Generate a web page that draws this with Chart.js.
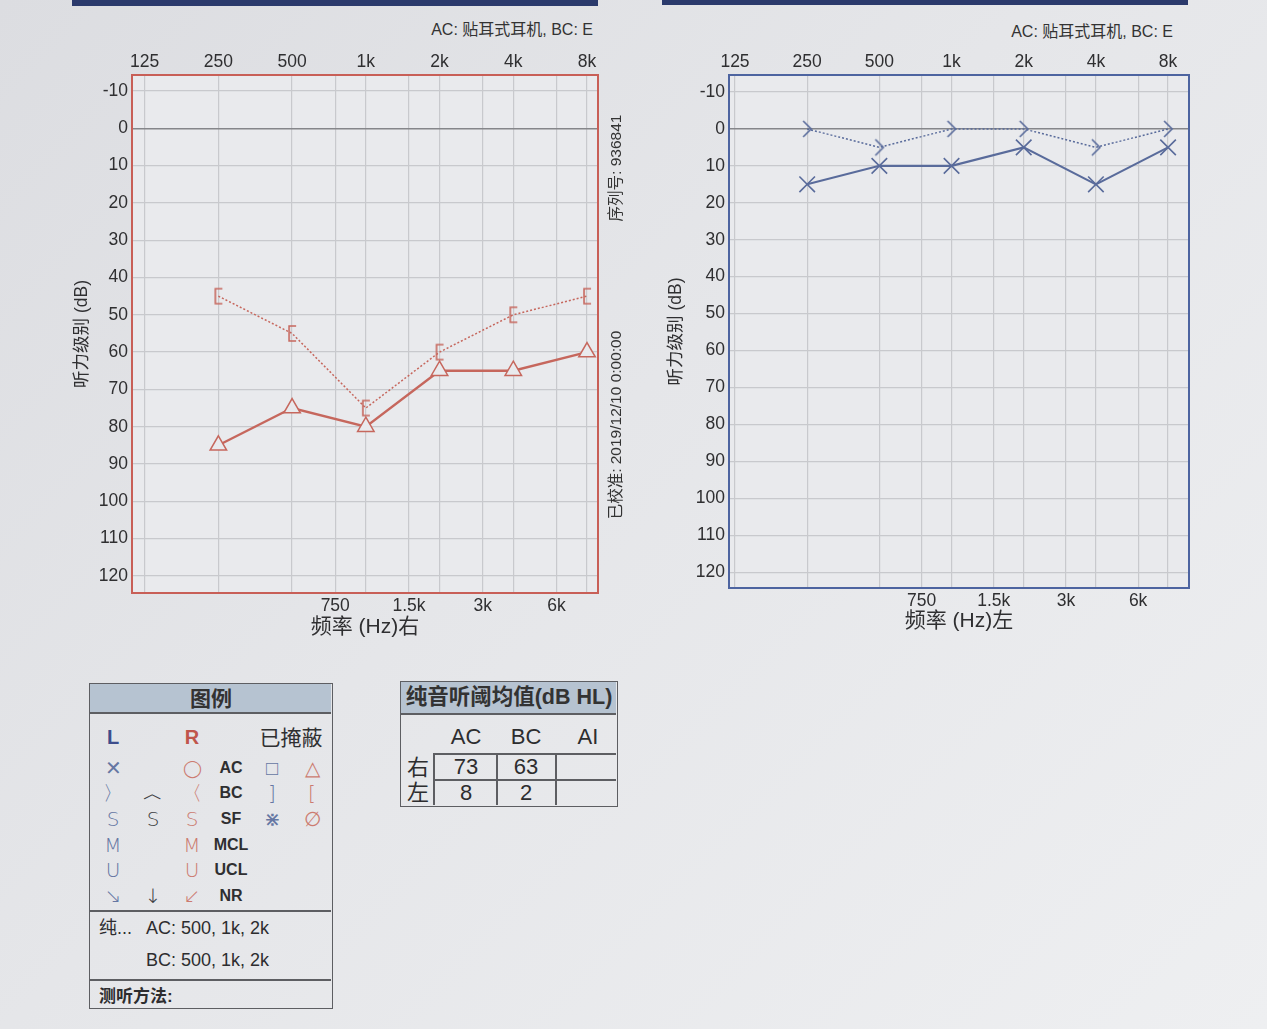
<!DOCTYPE html>
<html>
<head>
<meta charset="utf-8">
<script src="https://cdn.jsdelivr.net/npm/chart.js@4.4.1/dist/chart.umd.min.js"></script>
<style>
  body {
    margin: 0;
    width: 1267px;
    height: 1029px;
    position: relative;
    overflow: hidden;
    background: linear-gradient(135deg, #dcdde1 0%, #e5e6e9 45%, #eeeff1 100%);
    font-family: "Liberation Sans", "Noto Sans CJK SC", sans-serif;
    color: #2d2d2f;
  }
  .abs { position: absolute; }
  .c { position: absolute; transform: translate(-50%, -50%); white-space: nowrap; line-height: 1; }
  .l { position: absolute; transform: translateY(-50%); white-space: nowrap; line-height: 1; }
  .bar { position: absolute; top: 0; height: 6px; background: #2b3a6c; }
  .hdr { position: absolute; background: #b6c3d1; }
  .box { position: absolute; border: 1.5px solid #5d5e62; box-sizing: border-box; }
  .side { position: absolute; transform: translate(-50%, -50%) rotate(-90deg); white-space: nowrap; font-size: 15.5px; color: #333; }
  .note { position: absolute; font-size: 16px; color: #333; white-space: nowrap; transform: translate(-100%, -50%); }
  canvas { position: absolute; }
</style>
</head>
<body>
<div class="bar" style="left:72px;width:526px"></div>
<div class="bar" style="left:662px;width:526px;height:5px"></div>

<div class="note" style="left:593px;top:28px">AC: 贴耳式耳机, BC: E</div>
<div class="note" style="left:1173px;top:30px">AC: 贴耳式耳机, BC: E</div>

<canvas id="rightEar" width="560" height="610" style="left:60px;top:40px"></canvas>
<canvas id="leftEar" width="560" height="610" style="left:650px;top:40px"></canvas>

<div class="side" style="left:614px;top:168px">序列号: 936841</div>
<div class="side" style="left:614px;top:425px">已校准: 2019/12/10 0:00:00</div>

<div class="box" id="legendBox" style="left:89px;top:683px;width:244px;height:326px"></div>
<div class="box" id="avgBox" style="left:400px;top:681px;width:218px;height:126px"></div>

<script>
// 频率 (Hz) 与听阈 (dB HL)
const freqs = [250, 500, 1000, 2000, 4000, 8000];
const rightAC = [85, 75, 80, 65, 65, 60];   // 右耳 气导 (掩蔽) △
const rightBC = [45, 55, 75, 60, 50, 45];   // 右耳 骨导 (掩蔽) [
const leftAC = [15, 10, 10, 5, 15, 5];      // 左耳 气导 ×
const leftBC = [0, 5, 0, 0, 5, 0];          // 左耳 骨导 >

const topTicks = [125, 250, 500, 1000, 2000, 4000, 8000];
const bottomTicks = [750, 1500, 3000, 6000];
const dbTicks = [-10, 0, 10, 20, 30, 40, 50, 60, 70, 80, 90, 100, 110, 120];
const avgFreqs = [500, 1000, 2000];

const RED = '#c6675d';
const BLUE = '#596b9b';
const PLOT_BG = '#e9eaed';
const FONT = '"Liberation Sans", "Noto Sans CJK SC", sans-serif';

function fmtFreq(v) {
  return v >= 1000 ? (v / 1000) + 'k' : String(v);
}

function points(arr) {
  return freqs.map((f, i) => ({ x: f, y: arr[i] }));
}

function marker(draw, w, h) {
  const c = document.createElement('canvas');
  c.width = w; c.height = h;
  const g = c.getContext('2d');
  g.lineWidth = 1.6;
  draw(g);
  return c;
}

const bracketRed = marker(g => {
  g.strokeStyle = RED;
  g.beginPath(); g.moveTo(11, 2); g.lineTo(4, 2); g.lineTo(4, 17); g.lineTo(11, 17); g.stroke();
}, 14, 19);

const chevronBlue = marker(g => {
  g.strokeStyle = BLUE;
  g.beginPath(); g.moveTo(4, 2); g.lineTo(12, 10); g.lineTo(4, 18); g.stroke();
}, 16, 20);

const framePlugin = {
  id: 'frame',
  beforeDraw(chart, args, opts) {
    const { ctx, chartArea: a } = chart;
    ctx.save();
    ctx.fillStyle = PLOT_BG;
    ctx.fillRect(a.left, a.top, a.right - a.left, a.bottom - a.top);
    ctx.restore();
  },
  afterDraw(chart, args, opts) {
    const { ctx, chartArea: a } = chart;
    ctx.save();
    ctx.strokeStyle = opts.color;
    ctx.lineWidth = 2;
    ctx.strokeRect(a.left, a.top, a.right - a.left, a.bottom - a.top);
    ctx.restore();
  }
};

function audiogram(id, cfg) {
  return new Chart(document.getElementById(id), {
    type: 'line',
    data: { datasets: cfg.datasets },
    plugins: [framePlugin],
    options: {
      responsive: false,
      animation: false,
      layout: { padding: { right: cfg.padRight } },
      plugins: {
        legend: { display: false },
        tooltip: { enabled: false },
        frame: { color: cfg.frame }
      },
      scales: {
        x: {
          type: 'logarithmic',
          position: 'top',
          min: cfg.xmin, max: cfg.xmax,
          afterBuildTicks: s => { s.ticks = topTicks.map(v => ({ value: v })); },
          afterFit: s => { s.height = 35; },
          ticks: { callback: v => fmtFreq(v), color: '#2f2f31', font: { family: FONT, size: 17.5 }, padding: 2, maxRotation: 0, autoSkip: false },
          grid: { color: '#c8c9cd', lineWidth: 1.2, drawTicks: false },
          border: { display: false }
        },
        x2: {
          type: 'logarithmic',
          position: 'bottom',
          min: cfg.xmin, max: cfg.xmax,
          afterBuildTicks: s => { s.ticks = bottomTicks.map(v => ({ value: v })); },
          afterFit: s => { s.height = cfg.bottomH; },
          ticks: { callback: v => fmtFreq(v), color: '#2f2f31', font: { family: FONT, size: 17.5 }, padding: 3, maxRotation: 0, autoSkip: false },
          grid: { color: '#c8c9cd', lineWidth: 1.2, drawTicks: false },
          border: { display: false },
          title: { display: true, text: cfg.xTitle, color: '#2f2f31', font: { family: FONT, size: 21 }, padding: { top: 0, bottom: cfg.titlePad } }
        },
        y: {
          reverse: true,
          min: cfg.ymin, max: cfg.ymax,
          afterBuildTicks: s => { s.ticks = dbTicks.map(v => ({ value: v })); },
          afterFit: s => { s.width = cfg.yW; },
          ticks: { color: '#2f2f31', font: { family: FONT, size: 17.5 }, padding: 4 },
          grid: {
            color: c => (c.tick && c.tick.value === 0) ? '#85868a' : '#c8c9cd',
            lineWidth: c => (c.tick && c.tick.value === 0) ? 1.6 : 1.2,
            drawTicks: false
          },
          border: { display: false },
          title: { display: true, text: '听力级别 (dB)', color: '#2f2f31', font: { family: FONT, size: 17.5 }, padding: { top: cfg.yTitlePad, bottom: 0 } }
        }
      }
    }
  });
}

audiogram('rightEar', {
  frame: '#c85f57',
  xmin: 111, xmax: 8870, ymin: -14.3, ymax: 124.6,
  padRight: 22, bottomH: 57, yW: 72, titlePad: 10, yTitlePad: 12,
  xTitle: '频率 (Hz)右',
  datasets: [
    {
      data: points(rightBC), borderColor: RED, borderWidth: 1.5, borderDash: [2, 2],
      pointStyle: bracketRed, pointRadius: 8
    },
    {
      data: points(rightAC), borderColor: RED, borderWidth: 2.3,
      pointStyle: 'triangle', pointRadius: 9.5, pointBorderWidth: 1.5,
      pointBorderColor: RED, pointBackgroundColor: PLOT_BG
    }
  ]
});

audiogram('leftEar', {
  frame: '#4d64a0',
  xmin: 118, xmax: 9780, ymin: -14.6, ymax: 124.3,
  padRight: 21, bottomH: 62, yW: 79, titlePad: 16, yTitlePad: 16,
  xTitle: '频率 (Hz)左',
  datasets: [
    {
      data: points(leftBC), borderColor: BLUE, borderWidth: 1.5, borderDash: [2, 2],
      pointStyle: chevronBlue, pointRadius: 8
    },
    {
      data: points(leftAC), borderColor: BLUE, borderWidth: 2.1,
      pointStyle: 'crossRot', pointRadius: 11, pointBorderWidth: 1.6,
      pointBorderColor: BLUE, pointBackgroundColor: BLUE
    }
  ]
});

// 图例 与 均值表
function put(parent, text, x, y, style, cls) {
  const s = document.createElement('span');
  s.className = cls || 'c';
  s.textContent = text;
  s.style.left = x + 'px';
  s.style.top = y + 'px';
  Object.assign(s.style, style || {});
  parent.appendChild(s);
  return s;
}
function rule(parent, x, y, w, h, color) {
  const d = document.createElement('div');
  d.className = 'abs';
  Object.assign(d.style, { left: x + 'px', top: y + 'px', width: w + 'px', height: h + 'px', background: color || '#5d5e62' });
  parent.appendChild(d);
}

const lg = document.getElementById('legendBox');
const hd = document.createElement('div');
hd.className = 'hdr';
Object.assign(hd.style, { left: '0px', top: '0px', width: '241px', height: '28px' });
lg.appendChild(hd);
rule(lg, 0, 28, 241, 1.5);
put(lg, '图例', 121, 14, { fontSize: '21px', fontWeight: 'bold', color: '#333' });

const SYM = '"DejaVu Sans", sans-serif';
const blueT = { color: '#6677a3', fontSize: '20px', fontFamily: SYM, fontWeight: '200' };
const redT = { color: '#cc7b70', fontSize: '20px', fontFamily: SYM, fontWeight: '200' };
const darkT = { color: '#3e3f43', fontSize: '20px', fontFamily: SYM, fontWeight: '200' };
const lab = { fontSize: '16px', fontWeight: 'bold', color: '#2f2f31' };

put(lg, 'L', 23, 53, { color: '#3d4d8c', fontSize: '20px', fontWeight: 'bold' });
put(lg, 'R', 102, 53, { color: '#c0554b', fontSize: '20px', fontWeight: 'bold' });
put(lg, '已掩蔽', 201, 53, { fontSize: '21px', color: '#2f2f31' });

const rows = [
  { y: 84, l: '✕', m: '', r: '◯', t: 'AC', k1: '□', k2: '△' },
  { y: 109, l: '〉', m: '︿', r: '〈', t: 'BC', k1: ']', k2: '[' },
  { y: 135, l: 'S', m: 'S', r: 'S', t: 'SF', k1: '⋇', k2: '∅' },
  { y: 161, l: 'M', m: '', r: 'M', t: 'MCL', k1: '', k2: '' },
  { y: 186, l: 'U', m: '', r: 'U', t: 'UCL', k1: '', k2: '' },
  { y: 212, l: '↘\uFE0E', m: '↓\uFE0E', r: '↙\uFE0E', t: 'NR', k1: '', k2: '' }
];
rows.forEach(r => {
  put(lg, r.l, 23, r.y, blueT);
  if (r.m) put(lg, r.m, 63, r.y, darkT);
  put(lg, r.r, 102, r.y, r.r === '◯' ? Object.assign({}, redT, { fontSize: '17px' }) : redT);
  put(lg, r.t, 141, r.y, lab);
  if (r.k1) put(lg, r.k1, 182, r.y, blueT);
  if (r.k2) put(lg, r.k2, 222, r.y, redT);
});
rule(lg, 0, 226, 241, 1.5);
put(lg, '纯...', 9, 244, { fontSize: '18px' }, 'l');
put(lg, 'AC: 500, 1k, 2k', 56, 244, { fontSize: '18px' }, 'l');
put(lg, 'BC: 500, 1k, 2k', 56, 276, { fontSize: '18px' }, 'l');
rule(lg, 0, 295, 241, 1.5);
put(lg, '测听方法:', 9, 312, { fontSize: '17px', fontWeight: 'bold' }, 'l');

// 均值: 500, 1k, 2k 三频平均
function avg(arr) {
  const v = avgFreqs.map(f => arr[freqs.indexOf(f)]);
  return Math.round(v.reduce((a, b) => a + b, 0) / v.length);
}
const ab = document.getElementById('avgBox');
const hd2 = document.createElement('div');
hd2.className = 'hdr';
Object.assign(hd2.style, { left: '0px', top: '0px', width: '215px', height: '31px' });
ab.appendChild(hd2);
rule(ab, 0, 31, 215, 1.5);
put(ab, '纯音听阈均值(dB HL)', 108, 16, { fontSize: '21.5px', fontWeight: 'bold', color: '#333' });
put(ab, 'AC', 65, 55, { fontSize: '22px' });
put(ab, 'BC', 125, 55, { fontSize: '22px' });
put(ab, 'AI', 187, 55, { fontSize: '22px' });
rule(ab, 32, 71, 183, 1.5);
rule(ab, 32, 97, 183, 1.5);
rule(ab, 32, 71, 1.5, 52);
rule(ab, 95, 71, 1.5, 52);
rule(ab, 154, 71, 1.5, 52);
put(ab, '右', 17, 86, { fontSize: '22px' });
put(ab, '左', 17, 111, { fontSize: '22px' });
put(ab, String(avg(rightAC)), 65, 85, { fontSize: '22px' });
put(ab, String(avg(rightBC)), 125, 85, { fontSize: '22px' });
put(ab, String(avg(leftAC)), 65, 111, { fontSize: '22px' });
put(ab, String(avg(leftBC)), 125, 111, { fontSize: '22px' });
</script>
</body>
</html>
